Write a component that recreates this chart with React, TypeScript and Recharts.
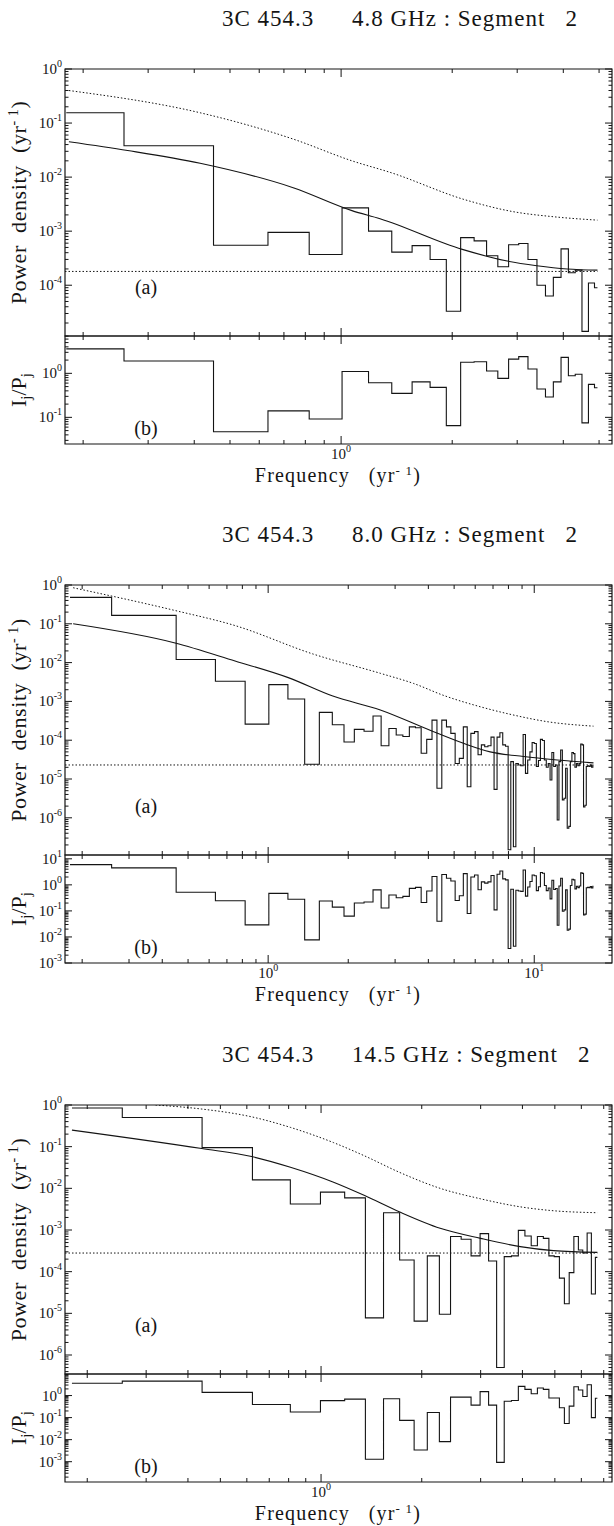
import { LineChart, Line, XAxis, YAxis, ReferenceArea } from 'recharts'

const FONT = '"Liberation Serif", "Times New Roman", serif'
const INK = '#141414'
const W = 614
const PLOT_L = 65
const PLOT_R = 612

// ---------- 3C 454.3, 4.8 GHz ----------
const freq48 = [0.18, 0.37, 0.55, 0.73, 0.92, 1.1, 1.28, 1.47, 1.65, 1.84, 2.02, 2.2, 2.39, 2.57, 2.75, 2.94, 3.12, 3.3, 3.49, 3.67, 3.85, 4.04, 4.22, 4.4, 4.59, 4.77, 4.95]
const power48 = [0.155, 0.038, 5.5e-4, 9.5e-4, 3.7e-4, 2.7e-3, 1.0e-3, 4.1e-4, 5.4e-4, 3.0e-4, 3.3e-5, 7.6e-4, 6.6e-4, 3.5e-4, 2.2e-4, 5.6e-4, 5.9e-4, 3.0e-4, 1.0e-4, 6.3e-5, 1.4e-4, 4.7e-4, 1.7e-4, 1.9e-4, 1.4e-5, 1.1e-4, 9.0e-5]
const ratio48 = [3.6, 1.9, 0.047, 0.14, 0.092, 1.1, 0.61, 0.35, 0.64, 0.48, 0.065, 1.78, 1.84, 1.13, 0.77, 2.1, 2.4, 1.25, 0.44, 0.29, 0.64, 2.3, 0.88, 0.95, 0.075, 0.56, 0.47]
const modelFreq48 = [0.183, 0.264, 0.415, 0.745, 1.07, 1.275, 2.13, 2.82, 3.39, 4.1, 4.95]
const model48 = [0.045, 0.031, 0.018, 6.3e-3, 2.4e-3, 1.7e-3, 4.6e-4, 2.8e-4, 2.3e-4, 2.0e-4, 1.9e-4]
const sigFreq48 = [0.183, 0.415, 0.745, 1.07, 1.37, 2.17, 2.92, 3.76, 4.95]
const sig48 = [0.4, 0.155, 0.05, 0.02, 0.012, 3.8e-3, 2.3e-3, 1.85e-3, 1.6e-3]
const noise48 = 1.8e-4

// ---------- 3C 454.3, 8.0 GHz ----------
const freq80 = [
  0.18, 0.37, 0.55, 0.73, 0.92, 1.1, 1.28, 1.47, 1.65, 1.84,
  2.02, 2.2, 2.39, 2.57, 2.75, 2.94, 3.12, 3.3, 3.49, 3.67,
  3.85, 4.04, 4.22, 4.4, 4.59, 4.77, 4.95, 5.14, 5.32, 5.51,
  5.69, 5.87, 6.06, 6.24, 6.42, 6.61, 6.79, 6.97, 7.16, 7.34,
  7.52, 7.71, 7.89, 8.07, 8.26, 8.44, 8.62, 8.81, 8.99, 9.18,
  9.36, 9.54, 9.73, 9.91, 10.09, 10.28, 10.46, 10.64, 10.83, 11.01,
  11.19, 11.38, 11.56, 11.74, 11.93, 12.11, 12.29, 12.48, 12.66, 12.85,
  13.03, 13.21, 13.4, 13.58, 13.76, 13.95, 14.13, 14.31, 14.5, 14.68,
  14.86, 15.05, 15.23, 15.41, 15.6, 15.78, 15.96, 16.15, 16.33, 16.52,
  16.7,
]
const power80 = [
  0.48, 0.165, 0.012, 3.3e-3, 2.6e-4, 2.7e-3, 1.15e-3, 2.4e-5, 5.2e-4, 2.5e-4,
  9e-5, 1.9e-4, 1.7e-4, 4.2e-4, 7.2e-5, 2.0e-4, 1.36e-4, 1.25e-4, 2.2e-4, 2.1e-4,
  4.6e-5, 1.05e-4, 3.3e-4, 5.8e-6, 3.3e-4, 2.2e-4, 1.5e-4, 2.5e-5, 3.4e-5, 2.2e-4,
  6.3e-6, 1.5e-4, 1.66e-4, 4.2e-5, 7.6e-5, 6.8e-5, 7.2e-5, 1.2e-4, 5.4e-6, 1.2e-4,
  1.56e-4, 7.6e-5, 7.0e-5, 1.5e-7, 2.8e-5, 1.8e-7, 2.5e-5, 2.3e-5, 2.2e-5, 1.4e-4,
  1.4e-5, 3.1e-5, 5.0e-5, 8.7e-5, 8.2e-5, 2.1e-5, 3.0e-5, 1.05e-4, 9.8e-5, 3.1e-5,
  2.0e-5, 2.5e-5, 9.4e-6, 4.8e-5, 2.1e-5, 2.3e-5, 8.8e-7, 2.8e-5, 5.6e-5, 2.9e-6,
  3.2e-6, 1.9e-5, 5.4e-7, 6.0e-7, 2.8e-5, 4.8e-5, 4.5e-5, 2.0e-5, 2.5e-5, 2.2e-5,
  2.5e-5, 8.0e-5, 7.6e-5, 1.9e-6, 2.1e-6, 2.1e-5, 2.2e-5, 2.1e-5, 2.3e-5, 2.0e-5,
  2.3e-5,
]
const ratio80 = [
  6.0, 4.5, 0.52, 0.245, 0.029, 0.47, 0.28, 7.7e-3, 0.24, 0.14,
  0.063, 0.2, 0.22, 0.64, 0.13, 0.41, 0.32, 0.36, 0.73, 0.8,
  0.21, 0.58, 2.1, 0.04, 2.5, 1.8, 1.4, 0.25, 0.38, 2.7,
  0.08, 2.0, 2.4, 0.65, 1.3, 1.17, 1.3, 2.3, 0.11, 2.55,
  3.4, 1.7, 1.55, 3.6e-3, 0.68, 4.4e-3, 0.62, 0.58, 0.56, 3.7,
  0.37, 0.83, 1.35, 2.4, 2.25, 0.6, 0.85, 3.0, 2.8, 0.94,
  0.6, 0.76, 0.29, 1.5, 0.66, 0.72, 0.028, 0.9, 1.8, 0.097,
  0.11, 0.64, 0.018, 0.02, 0.95, 1.65, 1.55, 0.7, 0.88, 0.78,
  0.9, 2.9, 2.75, 0.07, 0.075, 0.77, 0.8, 0.78, 0.87, 0.76,
  0.88,
]
const modelFreq80 = [0.185, 0.447, 0.751, 1.19, 1.75, 2.64, 4.06, 5.42, 6.83, 9.12, 12.2, 16.7]
const model80 = [0.1, 0.032, 0.011, 4.1e-3, 1.37e-3, 6.0e-4, 1.8e-4, 8.3e-5, 5.0e-5, 3.8e-5, 3.1e-5, 2.6e-5]
const sigFreq80 = [0.185, 0.447, 0.751, 1.48, 2.64, 3.52, 4.6, 6.26, 8.3, 11.2, 16.7]
const sig80 = [0.85, 0.22, 0.09, 0.0165, 5.3e-3, 2.9e-3, 1.4e-3, 7.3e-4, 4.5e-4, 3.0e-4, 2.3e-4]
const noise80 = 2.3e-5

// ---------- 3C 454.3, 14.5 GHz ----------
const freq145 = [
  0.18, 0.36, 0.54, 0.72, 0.91, 1.09, 1.27, 1.45, 1.63, 1.81,
  1.99, 2.17, 2.35, 2.53, 2.72, 2.9, 3.08, 3.26, 3.44, 3.62,
  3.8, 3.98, 4.16, 4.34, 4.53, 4.71, 4.89, 5.07, 5.25, 5.43,
  5.61, 5.79, 5.97, 6.15, 6.34, 6.52, 6.7,
]
const power145 = [
  0.85, 0.5, 0.095, 0.016, 4.2e-3, 8.1e-3, 5.9e-3, 7.8e-6, 2.6e-3, 1.9e-4,
  6.5e-6, 2.4e-4, 9.5e-6, 7.0e-4, 6.0e-4, 2.4e-4, 8.2e-4, 1.8e-4, 5.0e-7, 2.3e-4,
  2.4e-4, 9.8e-4, 7.2e-4, 4.2e-4, 7.0e-4, 6.3e-4, 2.4e-4, 2.3e-4, 7.0e-5, 1.7e-5,
  9.5e-5, 7.0e-4, 3.3e-4, 2.8e-4, 8.5e-4, 2.9e-5, 2.2e-4,
]
const ratio145 = [
  3.6, 4.5, 1.4, 0.39, 0.18, 0.59, 0.69, 1.3e-3, 0.72, 0.075,
  3.4e-3, 0.17, 8.1e-3, 0.85, 0.85, 0.37, 1.5, 0.37, 9.3e-4, 0.55,
  0.6, 2.6, 1.9, 1.2, 2.2, 1.9, 0.77, 0.77, 0.28, 0.054,
  0.33, 2.5, 1.8, 0.9, 3.1, 0.1, 0.76,
]
const modelFreq145 = [0.18, 0.44, 0.62, 0.81, 1.09, 1.35, 1.72, 2.27, 3.0, 3.94, 4.95, 6.7]
const model145 = [0.25, 0.09, 0.058, 0.032, 0.014, 6.7e-3, 2.7e-3, 1.1e-3, 6.3e-4, 4.0e-4, 3.2e-4, 2.9e-4]
const sigFreq145 = [0.32, 0.44, 0.62, 0.81, 1.09, 1.35, 1.72, 2.27, 3.0, 3.94, 4.95, 6.7]
const sig145 = [1.0, 0.8, 0.52, 0.29, 0.125, 0.06, 0.024, 0.01, 5.6e-3, 3.6e-3, 2.9e-3, 2.6e-3]
const noise145 = 2.8e-4

// decade tick labels
const xMajor48 = [1]
const xMajor80 = [1, 10]
const xMajor145 = [1]
const aMajor48 = [1, 1e-1, 1e-2, 1e-3, 1e-4]
const bMajor48 = [1, 1e-1]
const aMajor80 = [1, 1e-1, 1e-2, 1e-3, 1e-4, 1e-5, 1e-6]
const bMajor80 = [10, 1, 1e-1, 1e-2, 1e-3]
const aMajor145 = [1, 1e-1, 1e-2, 1e-3, 1e-4, 1e-5, 1e-6]
const bMajor145 = [1, 1e-1, 1e-2, 1e-3]

type Cfg = {
  band: string
  freq: number[]
  power: number[]
  ratio: number[]
  modelFreq: number[]
  model: number[]
  sigFreq: number[]
  sig: number[]
  noise: number
  xDomain: [number, number]
  aDomain: [number, number]
  bDomain: [number, number]
  xMajor: number[]
  aMajor: number[]
  bMajor: number[]
  aTop: number
  aBot: number
  bBot: number
}

const panels: Cfg[] = [
  {
    band: '4.8', freq: freq48, power: power48, ratio: ratio48,
    modelFreq: modelFreq48, model: model48, sigFreq: sigFreq48, sig: sig48, noise: noise48,
    xDomain: [0.1786, 5.42], aDomain: [1.15e-5, 1], bDomain: [0.0248, 7.05],
    xMajor: xMajor48, aMajor: aMajor48, bMajor: bMajor48,
    aTop: 69, aBot: 336, bBot: 444,
  },
  {
    band: '8.0', freq: freq80, power: power80, ratio: ratio80,
    modelFreq: modelFreq80, model: model80, sigFreq: sigFreq80, sig: sig80, noise: noise80,
    xDomain: [0.1724, 19.6], aDomain: [1.1e-7, 1], bDomain: [1e-3, 14],
    xMajor: xMajor80, aMajor: aMajor80, bMajor: bMajor80,
    aTop: 585, aBot: 855, bBot: 963,
  },
  {
    band: '14.5', freq: freq145, power: power145, ratio: ratio145,
    modelFreq: modelFreq145, model: model145, sigFreq: sigFreq145, sig: sig145, noise: noise145,
    xDomain: [0.1716, 7.41], aDomain: [3.5e-7, 1], bDomain: [1.2e-4, 9.5],
    xMajor: xMajor145, aMajor: aMajor145, bMajor: bMajor145,
    aTop: 1105, aBot: 1374, bBot: 1482,
  },
]

function minorTicks(lo: number, hi: number) {
  const out: number[] = []
  for (let e = Math.floor(Math.log10(lo)); e <= Math.ceil(Math.log10(hi)); e++) {
    for (let m = 2; m <= 9; m++) {
      const v = m * Math.pow(10, e)
      if (v > lo && v < hi) out.push(v)
    }
  }
  return out
}

const isDecade = (v: number) => Math.abs(Math.log10(v) - Math.round(Math.log10(v))) < 1e-6

const expText = (v: number) => {
  const e = Math.round(Math.log10(v))
  return e < 0 ? `-${-e}` : `${e}`
}

const pairs = (xs: number[], ys: number[]) => xs.map((f, i) => ({ f, v: ys[i] }))

const yTick = (props: any) => {
  const { x, y, payload } = props
  const v = payload.value as number
  const major = isDecade(v)
  const len = major ? 7 : 3.5
  return (
    <g>
      <line x1={x} x2={x + len} y1={y} y2={y} stroke={INK} strokeWidth={1} />
      <line x1={PLOT_R} x2={PLOT_R - len} y1={y} y2={y} stroke={INK} strokeWidth={1} />
      {major && (
        <text x={x - 3} y={y + 5} textAnchor="end" fontFamily={FONT} fontSize={15} fill={INK}>
          10<tspan dy={-7} fontSize={10}>{expText(v)}</tspan>
        </text>
      )}
    </g>
  )
}

const xTick = (top: number, labels: boolean) => (props: any) => {
  const { x, y, payload } = props
  const v = payload.value as number
  const major = isDecade(v)
  const len = major ? 8 : 4
  return (
    <g>
      <line x1={x} x2={x} y1={y} y2={y - len} stroke={INK} strokeWidth={1} />
      <line x1={x} x2={x} y1={top} y2={top + len} stroke={INK} strokeWidth={1} />
      {labels && major && (
        <text x={x} y={y + 15} textAnchor="middle" fontFamily={FONT} fontSize={15} fill={INK}>
          10<tspan dy={-7} fontSize={10}>{expText(v)}</tspan>
        </text>
      )}
    </g>
  )
}

function TopPlot({ c }: { c: Cfg }) {
  const mt = 12
  const h = c.aBot - c.aTop
  const noiseLine = [
    { f: c.xDomain[0], v: c.noise },
    { f: c.freq[c.freq.length - 1], v: c.noise },
  ]
  return (
    <div style={{ position: 'absolute', left: 0, top: c.aTop - mt }}>
      <LineChart width={W} height={h + mt + 1} margin={{ top: mt, right: W - PLOT_R, bottom: 0, left: 0 }}>
        <XAxis
          type="number" dataKey="f" scale="log" domain={c.xDomain} allowDataOverflow
          ticks={[...c.xMajor, ...minorTicks(c.xDomain[0], c.xDomain[1])]} interval={0}
          tickSize={0} tickMargin={0} axisLine={false} tickLine={false} height={1}
          tick={xTick(mt, false)}
        />
        <YAxis
          type="number" scale="log" domain={c.aDomain} allowDataOverflow
          ticks={[...c.aMajor, ...minorTicks(c.aDomain[0], c.aDomain[1])]} interval={0}
          tickSize={0} tickMargin={0} axisLine={false} tickLine={false} width={PLOT_L}
          tick={yTick}
        />
        <ReferenceArea x1={c.xDomain[0]} x2={c.xDomain[1]} y1={c.aDomain[0]} y2={c.aDomain[1]} fill="none" stroke={INK} strokeWidth={1.2} />
        <Line data={pairs(c.sigFreq, c.sig)} dataKey="v" type="monotone" stroke={INK} strokeWidth={1} strokeDasharray="1.5 2" dot={false} activeDot={false} isAnimationActive={false} />
        <Line data={noiseLine} dataKey="v" type="linear" stroke={INK} strokeWidth={1} strokeDasharray="1.5 2" dot={false} activeDot={false} isAnimationActive={false} />
        <Line data={pairs(c.modelFreq, c.model)} dataKey="v" type="monotone" stroke={INK} strokeWidth={1.1} dot={false} activeDot={false} isAnimationActive={false} />
        <Line data={pairs(c.freq, c.power)} dataKey="v" type="step" stroke={INK} strokeWidth={1.1} dot={false} activeDot={false} isAnimationActive={false} />
      </LineChart>
    </div>
  )
}

function BottomPlot({ c }: { c: Cfg }) {
  const mt = 10
  const mb = 40
  const h = c.bBot - c.aBot
  return (
    <div style={{ position: 'absolute', left: 0, top: c.aBot - mt }}>
      <LineChart width={W} height={h + mt + mb} margin={{ top: mt, right: W - PLOT_R, bottom: 0, left: 0 }}>
        <XAxis
          type="number" dataKey="f" scale="log" domain={c.xDomain} allowDataOverflow
          ticks={[...c.xMajor, ...minorTicks(c.xDomain[0], c.xDomain[1])]} interval={0}
          tickSize={0} tickMargin={0} axisLine={false} tickLine={false} height={mb}
          tick={xTick(mt, true)}
        />
        <YAxis
          type="number" scale="log" domain={c.bDomain} allowDataOverflow
          ticks={[...c.bMajor, ...minorTicks(c.bDomain[0], c.bDomain[1])]} interval={0}
          tickSize={0} tickMargin={0} axisLine={false} tickLine={false} width={PLOT_L}
          tick={yTick}
        />
        <ReferenceArea x1={c.xDomain[0]} x2={c.xDomain[1]} y1={c.bDomain[0]} y2={c.bDomain[1]} fill="none" stroke={INK} strokeWidth={1.2} />
        <Line data={pairs(c.freq, c.ratio)} dataKey="v" type="step" stroke={INK} strokeWidth={1.1} dot={false} activeDot={false} isAnimationActive={false} />
      </LineChart>
    </div>
  )
}

function Labels({ c }: { c: Cfg }) {
  const aMid = (c.aTop + c.aBot) / 2
  const bMid = (c.aBot + c.bBot) / 2
  const t = { fontFamily: FONT, fill: INK, style: { whiteSpace: 'pre' as const } }
  return (
    <g>
      <text x={222} y={c.aTop - 43} fontSize={23} letterSpacing={1} {...t}>3C 454.3</text>
      <text x={352} y={c.aTop - 43} fontSize={23} letterSpacing={1} {...t}>{`${c.band} GHz : Segment   2`}</text>
      <text transform={`translate(26, ${aMid}) rotate(-90)`} textAnchor="middle" fontSize={22} letterSpacing={0.6} {...t}>
        Power  density  (yr<tspan dy={-8} fontSize={14}>- 1</tspan><tspan dy={8}>)</tspan>
      </text>
      <text transform={`translate(26, ${bMid}) rotate(-90)`} textAnchor="middle" fontSize={22} {...t}>
        I<tspan dy={5} fontSize={15}>j</tspan><tspan dy={-5}>/P</tspan><tspan dy={5} fontSize={15}>j</tspan>
      </text>
      <text x={146} y={c.aBot - 42} textAnchor="middle" fontSize={20} {...t}>(a)</text>
      <text x={146} y={c.bBot - 9} textAnchor="middle" fontSize={20} {...t}>(b)</text>
      <text x={338} y={c.bBot + 38} textAnchor="middle" fontSize={20} letterSpacing={1.2} {...t}>
        Frequency   (yr<tspan dy={-7} fontSize={13}>- 1</tspan><tspan dy={7}>)</tspan>
      </text>
    </g>
  )
}

export default function App() {
  return (
    <div style={{ position: 'absolute', left: 0, top: 0, width: W, height: 1526, background: '#fff', overflow: 'hidden' }}>
      {panels.map((c) => (
        <div key={c.band}>
          <TopPlot c={c} />
          <BottomPlot c={c} />
        </div>
      ))}
      <svg width={W} height={1526} style={{ position: 'absolute', left: 0, top: 0, pointerEvents: 'none' }}>
        {panels.map((c) => (
          <Labels key={c.band} c={c} />
        ))}
      </svg>
    </div>
  )
}
